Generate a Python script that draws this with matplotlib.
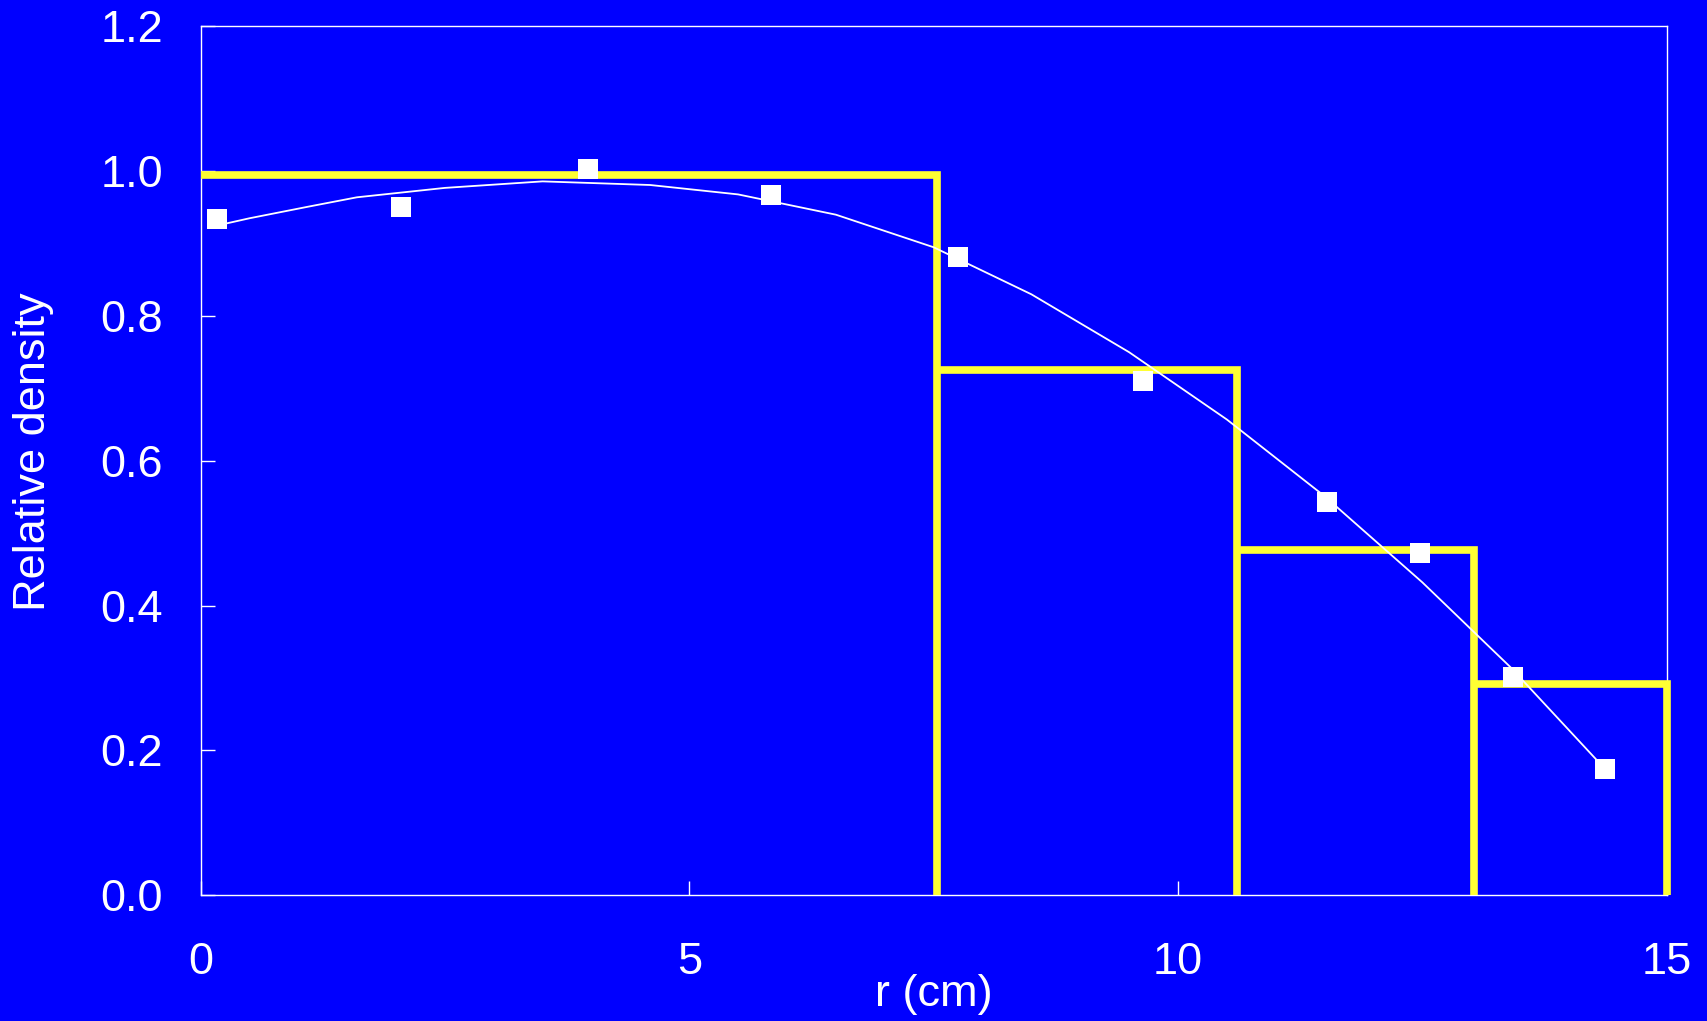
import numpy as np
import matplotlib.pyplot as plt

plt.rcParams['font.family'] = ['Liberation Sans', 'DejaVu Sans']

# measured points (squares)
r_pts = [0.17, 2.05, 3.96, 5.84, 7.75, 9.64, 11.52, 12.48, 13.43, 14.37]
dens_pts = [0.934, 0.950, 1.003, 0.967, 0.881, 0.710, 0.543, 0.472, 0.301, 0.174]

# smooth fitted curve
r_fit = [0.17, 0.5, 1.1, 1.6, 2.5, 3.5, 4.6, 5.5, 6.5, 7.5, 8.5, 9.5, 10.5, 11.5, 12.5, 13.4, 14.37]
dens_fit = [0.925, 0.935, 0.951, 0.964, 0.977, 0.986, 0.981, 0.968, 0.940, 0.895,
            0.830, 0.750, 0.657, 0.551, 0.432, 0.315, 0.174]

# zone model (yellow steps)
zone_edges = [0, 7.53, 10.6, 13.03, 15]
zone_dens = [0.995, 0.726, 0.477, 0.292]

blue = '#0000ff'
yellow = '#ffff33'

fig = plt.figure(figsize=(17.07, 10.21), dpi=100, facecolor=blue)
ax = fig.add_axes([200.5/1707, 1 - 895/1021, 1466.2/1707, 868.5/1021])
ax.set_facecolor(blue)

for i in range(len(zone_dens)):
    l, r = zone_edges[i], zone_edges[i+1]
    h = zone_dens[i]
    ax.plot([l, r, r], [h, h, 0], color=yellow, lw=5.5, solid_joinstyle='miter',
            solid_capstyle='butt', clip_on=False, zorder=3)

ax.plot(r_fit, dens_fit, color='white', lw=1.3, zorder=4)
ax.plot(r_pts, dens_pts, 's', color='white', ms=15, mew=0, zorder=5)

ax.set_xlim(0, 15)
ax.set_ylim(0, 1.2)
ax.set_xticks([0, 5, 10, 15])
ax.set_yticks(np.arange(0, 1.21, 0.2))
ax.set_yticklabels(["%.1f" % v for v in np.arange(0, 1.21, 0.2)])

for s in ax.spines.values():
    s.set_color('white')
    s.set_linewidth(1)

ax.tick_params(axis='x', direction='in', length=10, width=1, colors='white',
               labelsize=32.5, pad=34)
ax.tick_params(axis='y', direction='in', length=10, width=1, colors='white',
               labelsize=32.5, pad=27)

ax.set_xlabel("r (cm)", color='white', fontsize=32.5)
ax.xaxis.set_label_coords(0.5, -0.114)
ax.xaxis.label.set_va('center')
ax.set_ylabel("Relative density", color='white', fontsize=32.5)
ax.yaxis.set_label_coords(-0.114, 0.51)
ax.yaxis.label.set_va('center')

plt.savefig("out.png", dpi=100, facecolor=blue)
